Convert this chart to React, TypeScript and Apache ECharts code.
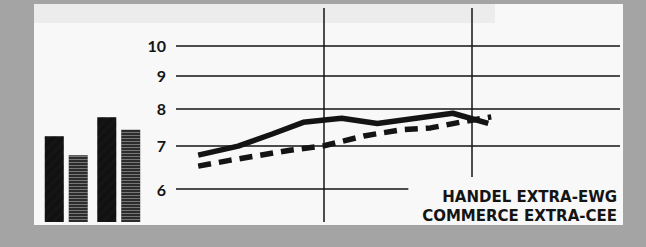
import React, { useEffect, useRef } from "react";
import * as echarts from "echarts";

// y gridline values (log scale)
const gridValues = [6, 7, 8, 9, 10];
// line series: x in years from left edge of plot, y values
const solidX = [0.15, 0.42, 0.65, 0.86, 1.02, 1.12, 1.36, 1.87, 2.11];
const solidY = [6.77, 6.99, 7.3, 7.61, 7.68, 7.72, 7.58, 7.86, 7.58];
const dashedX = [0.15, 0.37, 0.77, 1.0, 1.27, 1.52, 1.72, 1.94, 2.13];
const dashedY = [6.51, 6.65, 6.89, 7.0, 7.25, 7.41, 7.46, 7.63, 7.76];
// bars
const barCategories = ["I", "II"];
const blackBars = [7.24, 7.75];
const greyBars = [6.77, 7.41];
const caption1 = "HANDEL EXTRA-EWG";
const caption2 = "COMMERCE EXTRA-CEE";

const Y_MIN = 5.334;
const Y_MAX = 11.44;

export default function App() {
  const ref = useRef<HTMLDivElement>(null);
  useEffect(() => {
    if (!ref.current) return;
    const chart = echarts.init(ref.current, undefined, { renderer: "svg" });
    const ink = "#141414";
    const gridLines = gridValues.map((v) => [
      { name: String(v), coord: [0, v] },
      { coord: [v === 6 ? 1.57 : 3, v] },
    ]);
    const vLines = [
      [{ coord: [1, Y_MIN] }, { coord: [1, Y_MAX] }],
      [{ coord: [2, 6.26] }, { coord: [2, Y_MAX] }],
    ];
    chart.setOption({
      animation: false,
      backgroundColor: "#a4a4a4",
      aria: { enabled: true, decal: { show: true } },
      graphic: {
        elements: [
          { type: "rect", z: -10, shape: { x: 34, y: 4, width: 589, height: 221 }, style: { fill: "#f8f8f8" }, silent: true },
          { type: "rect", z: -9, shape: { x: 34, y: 4, width: 461, height: 19 }, style: { fill: "#ececec" }, silent: true },
          { type: "text", z: 10, x: 617, y: 197, style: { text: caption1, fill: ink, font: "bold 15px 'DejaVu Sans'", align: "right", verticalAlign: "middle" } },
          { type: "text", z: 10, x: 617, y: 216, style: { text: caption2, fill: ink, font: "bold 15px 'DejaVu Sans'", align: "right", verticalAlign: "middle" } },
        ],
      },
      grid: [
        { left: 176, top: 8, width: 444, height: 214 },
        { left: 40, top: 8, width: 105, height: 214 },
      ],
      xAxis: [
        { type: "value", gridIndex: 0, min: 0, max: 3, show: false },
        { type: "category", gridIndex: 1, data: barCategories, show: false },
      ],
      yAxis: [
        { type: "log", logBase: 10, gridIndex: 0, min: Y_MIN, max: Y_MAX, show: false, splitLine: { show: false } },
        { type: "log", logBase: 10, gridIndex: 1, min: Y_MIN, max: Y_MAX, show: false, splitLine: { show: false } },
      ],
      series: [
        {
          type: "line",
          xAxisIndex: 0,
          yAxisIndex: 0,
          data: solidX.map((x, i) => [x, solidY[i]]),
          symbol: "none",
          lineStyle: { color: ink, width: 5.5 },
          itemStyle: { decal: "none" },
          z: 5,
          markLine: {
            silent: true,
            symbol: "none",
            animation: false,
            lineStyle: { color: ink, width: 1.5, type: "solid" },
            label: {
              show: true,
              position: "start",
              distance: 10,
              color: ink,
              fontFamily: "Lato",
              fontWeight: "bold",
              fontSize: 16,
              formatter: "{b}",
            },
            data: gridLines,
          },
        },
        {
          type: "line",
          xAxisIndex: 0,
          yAxisIndex: 0,
          data: dashedX.map((x, i) => [x, dashedY[i]]),
          symbol: "none",
          lineStyle: { color: ink, width: 5.5, type: [13, 8] },
          itemStyle: { decal: "none" },
          z: 5,
          markLine: {
            silent: true,
            symbol: "none",
            animation: false,
            lineStyle: { color: ink, width: 1.5, type: "solid" },
            label: { show: false },
            data: vLines,
          },
        },
        {
          type: "bar",
          xAxisIndex: 1,
          yAxisIndex: 1,
          data: blackBars,
          barWidth: 19,
          barGap: "26%",
          clip: true,
          itemStyle: { color: "#151515", decal: "none" },
        },
        {
          type: "bar",
          xAxisIndex: 1,
          yAxisIndex: 1,
          data: greyBars,
          barWidth: 19,
          clip: true,
          itemStyle: {
            color: "#2c2c2c",
            decal: {
              symbol: "rect",
              symbolSize: 1,
              color: "rgba(255,255,255,0.35)",
              dashArrayX: [[1, 0]],
              dashArrayY: [1, 2],
              rotation: 0,
            },
          },
        },
      ],
    });
    return () => chart.dispose();
  }, []);
  return (
    <div
      ref={ref}
      style={{ position: "absolute", left: 0, top: 0, width: 646, height: 247 }}
    />
  );
}
